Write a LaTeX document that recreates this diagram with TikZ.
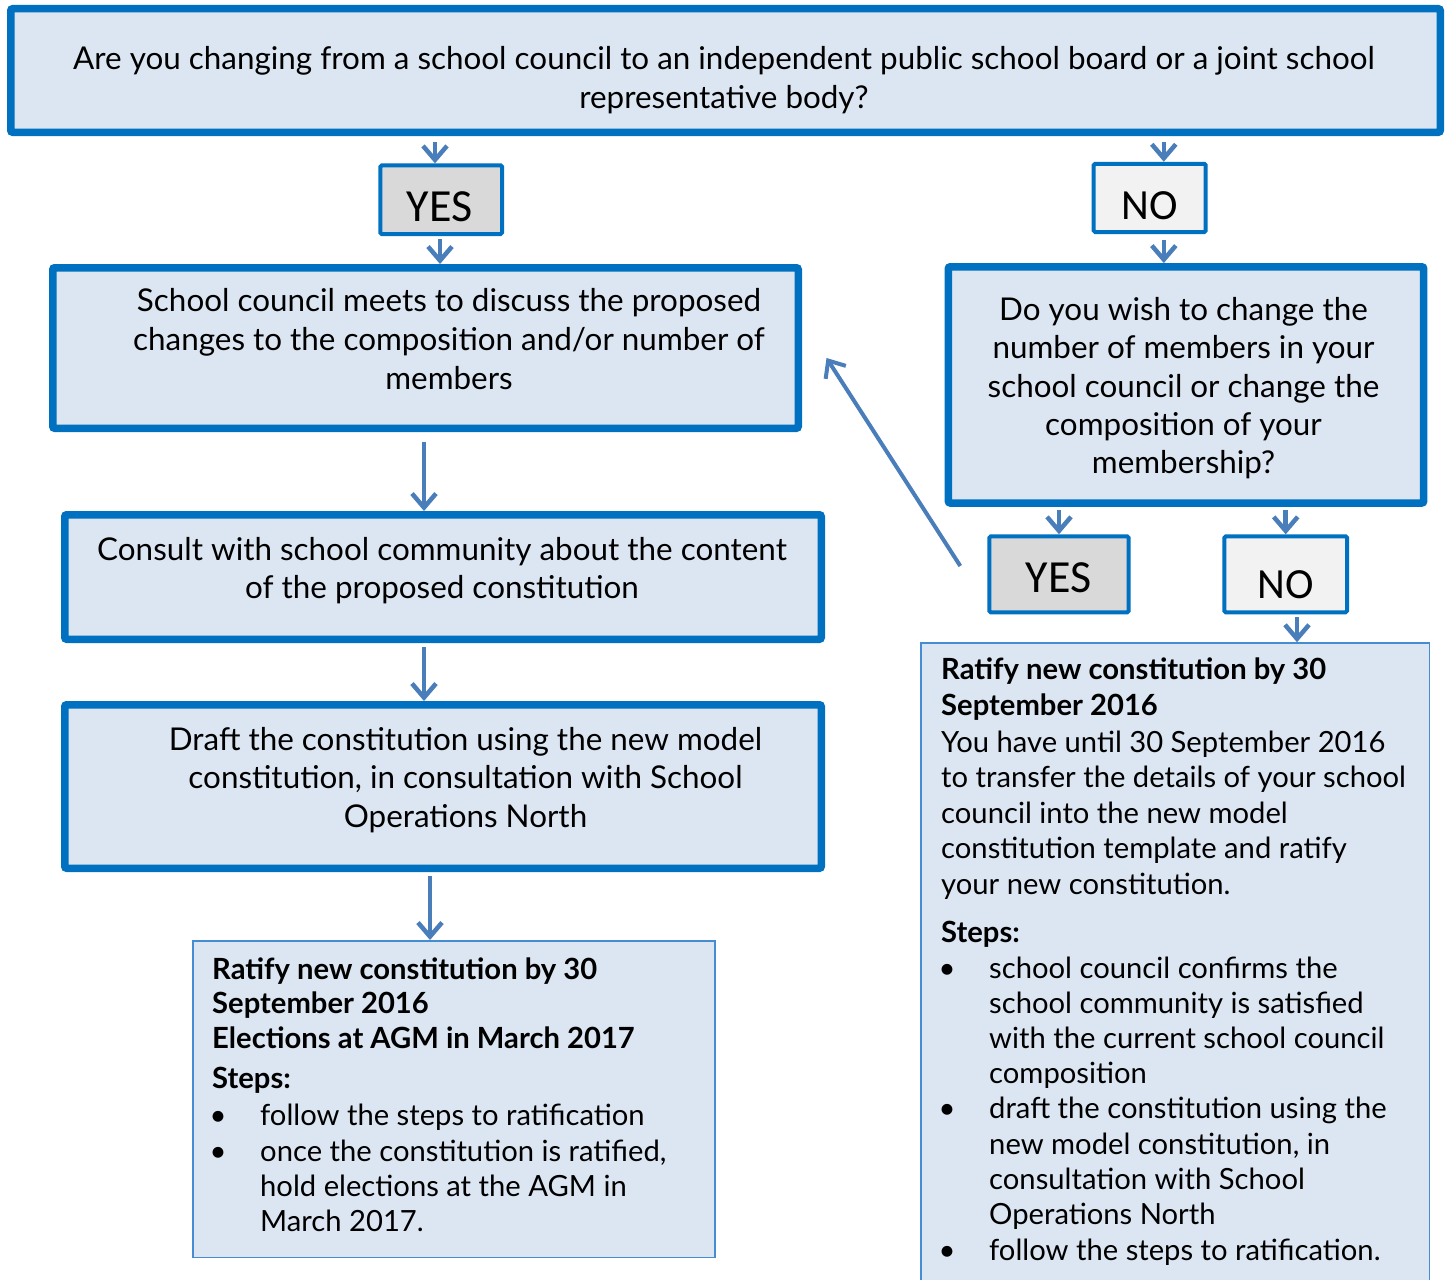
\documentclass[tikz,border=0pt]{standalone}
\usepackage{fontspec}
\setmainfont{Lato}
\newfontfamily\yesnofont{Carlito}
\usetikzlibrary{arrows.meta}
\definecolor{boxfill}{RGB}{220,230,242}
\definecolor{boxline}{RGB}{0,112,192}
\definecolor{thinline}{RGB}{70,140,210}
\definecolor{arrcol}{RGB}{74,126,187}
\definecolor{yesfill}{RGB}{217,217,217}
\definecolor{nofill}{RGB}{242,242,242}
\tikzset{
  bigbox/.style={draw=boxline,fill=boxfill,line width=7.5pt,rounded corners=2pt,inner sep=0pt},
  ansbox/.style={draw=boxline,line width=4pt,rounded corners=1.5pt,inner sep=0pt},
  infobox/.style={draw=thinline,fill=boxfill,line width=1.5pt,inner sep=0pt},
  arr/.style={draw=arrcol,line width=4.5pt,-{Straight Barb[length=14pt,width=24pt]}},
  mt/.style={anchor=base,inner sep=0pt,font=\fontsize{31.4}{38.5}\selectfont},
  yn/.style={anchor=base,inner sep=0pt,font=\yesnofont\fontsize{46}{52}\selectfont},
  nn/.style={anchor=base,inner sep=0pt,font=\yesnofont\fontsize{43}{50}\selectfont},
  rt/.style={anchor=base west,inner sep=0pt,font=\fontsize{29.2}{35}\selectfont},
  rb/.style={anchor=base west,inner sep=0pt,font=\bfseries\fontsize{29.2}{35}\selectfont},
  bul/.style={anchor=base,inner sep=0pt,font=\fontsize{29.2}{35}\selectfont},
}
\begin{document}
\begin{tikzpicture}[x=1pt,y=-1pt]
\useasboundingbox (0,0) rectangle (1447,1279);
% boxes
\node[bigbox,minimum width=1429.5pt,minimum height=123.5pt] (top) at (725.5,70.5) {};
\node[bigbox,minimum width=745.5pt,minimum height=160.5pt] (A) at (425.5,348) {};
\node[bigbox,minimum width=475.4pt,minimum height=236.2pt] (Q) at (1186,384.9) {};
\node[bigbox,minimum width=756.5pt,minimum height=124.5pt] (B) at (443,577) {};
\node[bigbox,minimum width=756.5pt,minimum height=163.5pt] (C) at (443,786.5) {};
\node[ansbox,fill=yesfill,minimum width=121.7pt,minimum height=68.7pt] (yes1) at (441.2,199.7) {};
\node[ansbox,fill=nofill,minimum width=112pt,minimum height=68.3pt] (no1) at (1149.7,197.9) {};
\node[ansbox,fill=yesfill,minimum width=139.4pt,minimum height=76pt] (yes2) at (1059,574.3) {};
\node[ansbox,fill=nofill,minimum width=122.7pt,minimum height=76pt] (no2) at (1285.7,574.3) {};
\node[infobox,minimum width=522pt,minimum height=316.5pt] (R1) at (453.75,1099) {};
\node[infobox,minimum width=508.5pt,minimum height=640pt] (R2) at (1175,963) {};
% arrows
\draw[arr,shorten <=6pt] ([xshift=-6.2pt]yes1.north |- top.south) -- ([xshift=-6.2pt]yes1.north);
\draw[arr,shorten <=6pt] ([xshift=14.1pt]no1.north |- top.south) -- ([xshift=14.1pt]no1.north);
\draw[arr,shorten <=3pt] ([xshift=-1.2pt]yes1.south) -- ([xshift=-1.2pt]yes1.south |- A.north);
\draw[arr,shorten <=6pt] ([xshift=14.1pt]no1.south) -- ([xshift=14.1pt]no1.south |- Q.north);
\draw[arr,shorten <=10pt] ([xshift=-1.5pt]A.south) -- ([xshift=-1.5pt]A.south |- B.north);
\draw[arr,shorten <=4pt] ([xshift=-19pt]B.south) -- ([xshift=-19pt]B.south |- C.north);
\draw[arr,shorten <=4pt] ([xshift=-13pt]C.south) -- ([xshift=-13pt]C.south |- R1.north);
\draw[arr,shorten <=3pt] (yes2.north |- Q.south) -- (yes2.north);
\draw[arr,shorten <=3pt] (no2.north |- Q.south) -- (no2.north);
\draw[arr,shorten <=3pt] ([xshift=11.3pt]no2.south) -- ([xshift=11.3pt]no2.south |- R2.north);
\draw[arr,line width=4pt] ([xshift=-27pt,yshift=8.3pt]yes2.west) -- ([xshift=24.5pt,yshift=-10pt]A.east);
% main texts
\node[mt] (t1) at (724,70) {Are you changing from a school council to an independent public school board or a joint school};
\node[mt] (t2) at (724,109) {representative body?};
\node[mt] (a1) at (449,311.7) {School council meets to discuss the proposed};
\node[mt] (a2) at (449,350.5) {changes to the composition and/or number of};
\node[mt] (a3) at (449,389) {members};
\node[mt] (q1) at (1183.5,320) {Do you wish to change the};
\node[mt] (q2) at (1183.5,358.5) {number of members in your};
\node[mt] (q3) at (1183.5,397) {school council or change the};
\node[mt] (q4) at (1183.5,435) {composition of your};
\node[mt] (q5) at (1183.5,473) {membership?};
\node[mt] (b1) at (442,560) {Consult with school community about the content};
\node[mt] (b2) at (442,598.5) {of the proposed constitution};
\node[mt] (c1) at (465.5,750) {Draft the constitution using the new model};
\node[mt] (c2) at (465.5,788.5) {constitution, in consultation with School};
\node[mt] (c3) at (465.5,827) {Operations North};
% yes/no labels
\node[yn] (ly1) at (439.5,221.7) {YES};
\node[nn] (ln1) at (1149.4,219) {NO};
\node[yn] (ly2) at (1058.7,592.7) {YES};
\node[nn] (ln2) at (1285.5,598.3) {NO};
% left result box
\node[rb] (r1a) at (212,979) {Ratify new constitution by 30};
\node[rb] (r1b) at (212,1013.5) {September 2016};
\node[rb] (r1c) at (212,1048) {Elections at AGM in March 2017};
\node[rb] (r1d) at (212,1088) {Steps:};
\node[bul] (r1u1) at (218,1125) {•};
\node[rt] (r1e) at (260,1125) {follow the steps to ratification};
\node[bul] (r1u2) at (218,1161) {•};
\node[rt] (r1f) at (260,1161) {once the constitution is ratified,};
\node[rt] (r1g) at (260,1196) {hold elections at the AGM in};
\node[rt] (r1h) at (260,1231) {March 2017.};
% right result box
\node[rb] (r2a) at (941,679.5) {Ratify new constitution by 30};
\node[rb] (r2b) at (941,715) {September 2016};
\node[rt] (r2c) at (941,752) {You have until 30 September 2016};
\node[rt] (r2d) at (941,787.5) {to transfer the details of your school};
\node[rt] (r2e) at (941,823) {council into the new model};
\node[rt] (r2f) at (941,858.5) {constitution template and ratify};
\node[rt] (r2g) at (941,894) {your new constitution.};
\node[rb] (r2h) at (941,942) {Steps:};
\node[bul] (r2u1) at (947,978) {•};
\node[rt] (r2i) at (989,978) {school council confirms the};
\node[rt] (r2j) at (989,1013) {school community is satisfied};
\node[rt] (r2k) at (989,1048) {with the current school council};
\node[rt] (r2l) at (989,1083.5) {composition};
\node[bul] (r2u2) at (947,1118.5) {•};
\node[rt] (r2m) at (989,1118.5) {draft the constitution using the};
\node[rt] (r2n) at (989,1154) {new model constitution, in};
\node[rt] (r2o) at (989,1189) {consultation with School};
\node[rt] (r2p) at (989,1224.5) {Operations North};
\node[bul] (r2u3) at (947,1260) {•};
\node[rt] (r2q) at (989,1260) {follow the steps to ratification.};
\end{tikzpicture}
\end{document}
